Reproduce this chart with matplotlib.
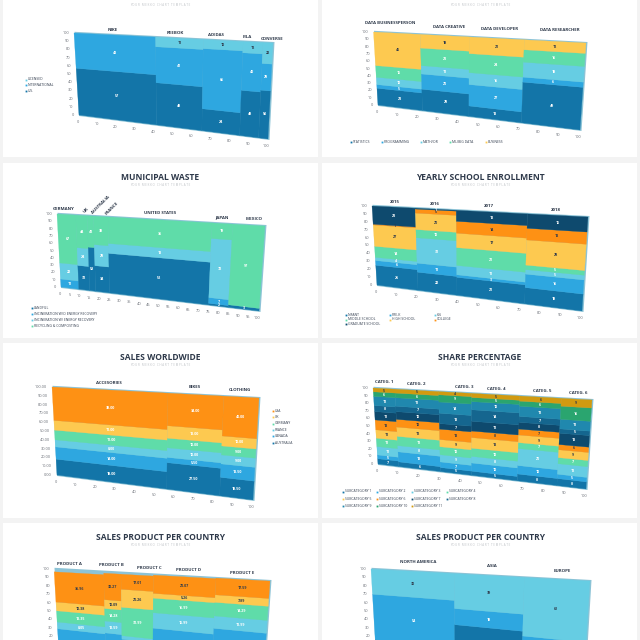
#!/usr/bin/env python3
# mekko chart template sheet, 8 tilted charts on white cards
import matplotlib.pyplot as plt
from matplotlib.patches import Rectangle
import numpy as np

plt.rcParams['font.family'] = ['Open Sans', 'DejaVu Sans']

DARK = '#1375a8'
BLUE = '#2ea7e0'
LIGHT = '#66cde3'
GREEN = '#5fdca9'
YELLOW = '#fdc950'
ORANGE = '#fe9114'
NAVY = '#0e4a6e'
TEAL1 = '#15668f'
TEAL2 = '#2088ae'
GREEN2 = '#2aa56f'
GOLD = '#d19a10'
INK = '#2f3a4b'
GREY = '#666b73'

# last pixel row where a text still fits on the sheet
MAX_Y = 637.5

# --- data ---
brand_cols = ['NIKE', 'REEBOK', 'ADIDAS', 'FILA', 'CONVERSE']
brand_widths = [41, 24, 20, 10, 5]
brand_series = ['U.S.', 'INTERNATIONAL', 'LICENSED']
brand_vals = [[57, 48, 24, 48, 50], [43, 41, 66, 40, 28], [0, 11, 10, 12, 22]]

job_cols = ['DATA BUSINESSPERSON', 'DATA CREATIVE', 'DATA DEVELOPER', 'DATA RESEARCHER']
job_widths = [22, 23, 26, 29]
job_series = ['STATISTICS', 'PROGRAMMING', 'MATH/OR', 'ML/BIG DATA', 'BUSINESS']
job_vals = [[23, 28, 13, 49], [5, 20, 27, 6], [10, 11, 15, 18], [16, 23, 24, 15], [46, 18, 21, 12]]

waste_cols = ['GERMANY', 'UK', 'AUSTRALIA', 'FRANCE', 'UNITED STATES', 'JAPAN', 'MEXICO']
waste_widths = [9, 5.5, 3, 7, 50, 10, 15.5]
waste_series = ['LANDFILL', 'INCINERATION W/O ENERGY RECOVERY',
                'INCINERATION W/ ENERGY RECOVERY', 'RECYCLING & COMPOSTING']
waste_vals = [[0, 32, 58, 34, 52, 2, 3], [11, 0, 0, 0, 0, 7, 0],
              [22, 24, 0, 28, 13, 72, 0], [67, 44, 42, 38, 35, 19, 97]]

school_cols = ['2015', '2016', '2017', '2018']
school_widths = [20, 19, 33, 28]
school_series = ['INFANT', 'PRE-K', 'K-6', 'MIDDLE SCHOOL', 'HIGH SCHOOL', 'COLLEGE', 'GRADUATE SCHOOL']
school_vals = [[25, 22, 21, 18], [6, 11, 3, 15], [4, 31, 11, 5], [14, 10, 21, 5],
               [27, 20, 17, 28], [1, 5, 14, 13], [23, 1, 13, 16]]

sales_cols = ['ACCESORIES', 'BIKES', 'CLOTHING']
sales_widths = [56, 27, 17]
sales_series = ['AUSTRALIA', 'CANADA', 'FRANCE', 'GERMANY', 'UK', 'USA']
sales_vals = [[18, 27.5, 18.5], [14, 5.5, 13.5], [8, 10, 9], [11, 10, 9], [11, 13, 10], [38, 34, 40]]

share_cols = ['CATEG. 1', 'CATEG. 2', 'CATEG. 3', 'CATEG. 4', 'CATEG. 5', 'CATEG. 6']
share_widths = [10, 20, 15, 22, 19, 14]
share_series = ['SUBCATEGORY %d' % i for i in range(1, 12)]
share_vals = [[7, 6, 5, 5, 8, 8], [5, 13, 7, 10, 10, 5], [11, 8, 9, 8, 20, 12],
              [11, 12, 10, 10, 7, 7], [11, 12, 9, 13, 9, 9], [13, 10, 13, 8, 7, 6],
              [11, 10, 7, 12, 8, 13], [8, 7, 13, 14, 7, 5], [12, 11, 14, 10, 12, 11],
              [6, 6, 9, 5, 6, 15], [5, 5, 4, 5, 6, 9]]

product_cols = ['PRODUCT A', 'PRODUCT B', 'PRODUCT C', 'PRODUCT D', 'PRODUCT E']
product_widths = [23, 8, 15, 29, 25]
product_vals = [[13.02, 12.10, 12.02, 15.00, 15.10], [15.85, 17.99, 13.01, 26.00, 32.05],
                [8.05, 13.59, 4.00, 16.99, 12.99], [13.35, 14.28, 31.99, 15.99, 14.29],
                [10.38, 10.09, 20.26, 5.26, 7.89], [35.96, 30.27, 17.01, 20.07, 17.59]]

region_cols = ['NORTH AMERICA', 'ASIA', 'EUROPE']
region_widths = [38, 32, 30]
region_vals = [[16, 43, 8], [54, 18, 30], [30, 39, 62]]

ticks_10 = list(range(0, 101, 10))
ticks_5 = list(range(0, 101, 5))
sales_ylabels = ['%.2f' % v for v in range(0, 101, 10)]


def warp(quad, x, y):
    # bilinear map from percent coords onto the tilted chart face
    tl, tr, br, bl = [np.array(p, float) for p in quad]
    u = x / 100.0
    v = y / 100.0
    top = tl + (tr - tl) * u
    bot = bl + (br - bl) * u
    return bot + (top - bot) * v


def mekko(ax, quad, widths, vals, colors, dark_text=(), fmt='%g', side='#8cc3d6'):
    tl, tr, br, bl = quad
    back = [(tl[0] + 0.5, tl[1] - 1.2), (tr[0] + 1.5, tr[1] - 1), (br[0] + 1.5, br[1] + 1), (bl[0], bl[1] + 1)]
    ax.fill(*zip(*back), color=side, lw=0, zorder=2)
    left = 0
    for c, w in enumerate(widths):
        base = 0
        for s, col in enumerate(colors):
            h = vals[s][c]
            if h > 0:
                pts = [warp(quad, left, base), warp(quad, left + w, base),
                       warp(quad, left + w, base + h), warp(quad, left, base + h)]
                ax.fill([p[0] for p in pts], [p[1] for p in pts], color=col, lw=0.2, zorder=3)
                mid = warp(quad, left + w / 2, base + h / 2)
                tc = INK if s in dark_text else 'white'
                # the two bottom charts run off the sheet
                if mid[1] < MAX_Y:
                    ax.text(mid[0], mid[1], fmt % h, color=tc, fontsize=2.6, fontweight='bold',
                            ha='center', va='center', zorder=5)
            base += h
        left += w


def axis_labels(ax, quad, xticks=ticks_10, ylabels=None):
    for i, t in enumerate(ticks_10):
        p = warp(quad, 0, t)
        lab = str(t) if ylabels is None else ylabels[i]
        if p[1] < MAX_Y:
            ax.text(p[0] - 5, p[1], lab, fontsize=2.8, color=GREY, ha='right', va='center', zorder=5)
    for t in xticks:
        p = warp(quad, t, 0)
        if p[1] + 7 < MAX_Y:
            ax.text(p[0] - 1.5, p[1] + 7, str(t), fontsize=2.8, color=GREY, ha='center', va='center', zorder=5)


def col_labels(ax, names, pos, rot=None):
    for i, (name, p) in enumerate(zip(names, pos)):
        r = 0 if rot is None else rot[i]
        ax.text(p[0], p[1], name, fontsize=3.2, fontweight='bold', color=INK,
                ha='center', va='center', rotation=r, zorder=5)


def legend(ax, names, colors, pos):
    for name, col, p in zip(names, colors, pos):
        ax.plot(p[0], p[1], 's', ms=1.3, color=col, mew=0, zorder=5)
        ax.text(p[0] + 2, p[1], name, fontsize=2.4, color=INK, ha='left', va='center', zorder=5)


def heading(ax, cx, y, title):
    if title:
        ax.text(cx, y, title, fontsize=6.1, fontweight='bold', color=INK, ha='center', va='center', zorder=5)
    ax.text(cx, y + 8.5, 'Y O U R   M E K K O   C H A R T   T E M P L A T E', fontsize=2.1,
            color='#bcc0c4', ha='center', va='center', zorder=5)


fig = plt.figure(figsize=(6.4, 6.4), dpi=100, facecolor='#f3f3f3')
ax = fig.add_axes([0, 0, 1, 1])
ax.set_xlim(0, 640)
ax.set_ylim(640, 0)
ax.axis('off')

# white cards
for x0 in (3, 322):
    for y0, y1 in ((-5, 157), (163, 338), (343, 518), (523, 650)):
        ax.add_patch(Rectangle((x0, y0), 315, y1 - y0, color='white', lw=0, zorder=1))

# top left
q = [(74, 33), (273, 43), (268, 139), (79, 115)]
heading(ax, 160, -3, '')
mekko(ax, q, brand_widths, brand_vals, [DARK, BLUE, LIGHT], dark_text=(2,))
axis_labels(ax, q)
col_labels(ax, brand_cols, [(113, 30), (175, 33), (216, 35), (247, 37), (272, 39)])
legend(ax, brand_series, [DARK, BLUE, LIGHT], [(26, 91), (26, 85), (26, 79.5)])

# top right
q = [(373.5, 32), (586, 43), (580, 130), (378, 105)]
heading(ax, 480, -3, '')
mekko(ax, q, job_widths, job_vals, [DARK, BLUE, LIGHT, GREEN, YELLOW], dark_text=(4,))
axis_labels(ax, q)
col_labels(ax, job_cols, [(390, 23), (449, 27.5), (500, 29.5), (560, 30)])
legend(ax, job_series, [DARK, BLUE, LIGHT, GREEN, YELLOW],
       [(351, 142), (382, 142), (421, 142), (450, 142), (486, 142)])

# municipal waste
q = [(57, 214), (265, 226), (259, 311), (61, 287)]
heading(ax, 160, 177, 'MUNICIPAL WASTE')
mekko(ax, q, waste_widths, waste_vals, [DARK, BLUE, LIGHT, GREEN])
axis_labels(ax, q, xticks=ticks_5)
col_labels(ax, waste_cols, [(64, 209), (86, 210), (101, 205), (112, 208), (160, 213.5), (222, 217), (254, 219.5)],
           rot=[0, 45, 45, 45, 0, 0, 0])
legend(ax, waste_series, [DARK, BLUE, LIGHT, GREEN],
       [(31.5, 308), (31.5, 314), (31.5, 320), (31.5, 326)])

# school enrollment
q = [(372, 206), (588, 217), (582, 311), (377, 285)]
heading(ax, 480, 177, 'YEARLY SCHOOL ENROLLMENT')
mekko(ax, q, school_widths, school_vals, [DARK, BLUE, LIGHT, GREEN, YELLOW, ORANGE, NAVY], dark_text=(4, 5))
axis_labels(ax, q)
col_labels(ax, school_cols, [(395, 202), (435, 204), (489, 206), (556, 210)])
legend(ax, school_series, [DARK, BLUE, LIGHT, GREEN, YELLOW, ORANGE, NAVY],
       [(346, 315), (390, 315), (435, 315), (346, 319.5), (390, 319.5), (435, 319.5), (346, 324)])

# sales worldwide
q = [(52, 387), (259, 398), (253, 500), (57, 475)]
heading(ax, 160, 357, 'SALES WORLDWIDE')
mekko(ax, q, sales_widths, sales_vals, [DARK, BLUE, LIGHT, GREEN, YELLOW, ORANGE], fmt='%.2f')
axis_labels(ax, q, ylabels=sales_ylabels)
col_labels(ax, sales_cols, [(109, 383), (195, 387), (240, 390)])
legend(ax, sales_series, [DARK, BLUE, LIGHT, GREEN, YELLOW, ORANGE],
       [(273, 442.5), (273, 436), (273, 430), (273, 423.5), (273, 417), (273, 410.5)])

# share percentage
q = [(373, 388), (592, 400), (586, 489), (378, 464)]
heading(ax, 480, 357, 'SHARE PERCENTAGE')
share_colors = [DARK, BLUE, LIGHT, GREEN, YELLOW, ORANGE, NAVY, TEAL1, TEAL2, GREEN2, GOLD]
mekko(ax, q, share_widths, share_vals, share_colors, dark_text=(4, 5, 10))
axis_labels(ax, q)
col_labels(ax, share_cols, [(384, 382), (416, 384), (464, 387), (496, 389), (542, 391), (578, 393)])
legend(ax, share_series, share_colors,
       [(x, y) for y in (491.5, 498.7, 506) for x in (343, 377, 412, 447)])

# product, runs off the bottom of the sheet
q = [(54, 569), (270, 581), (263, 680), (59, 653)]
heading(ax, 160, 537, 'SALES PRODUCT PER COUNTRY')
mekko(ax, q, product_widths, product_vals, [DARK, BLUE, LIGHT, GREEN, YELLOW, ORANGE], dark_text=(4, 5), fmt='%.2f')
axis_labels(ax, q)
col_labels(ax, product_cols, [(69, 564), (111, 565), (149, 568), (189, 570), (242, 572.5)])

# regions, same
q = [(371, 569), (590, 581), (584, 680), (376, 653)]
heading(ax, 480, 537, 'SALES PRODUCT PER COUNTRY')
mekko(ax, q, region_widths, region_vals, [DARK, BLUE, LIGHT], dark_text=(2,))
axis_labels(ax, q)
col_labels(ax, region_cols, [(418, 562), (492, 566), (562, 571)])

fig.savefig('out.png', dpi=100, facecolor=fig.get_facecolor())
